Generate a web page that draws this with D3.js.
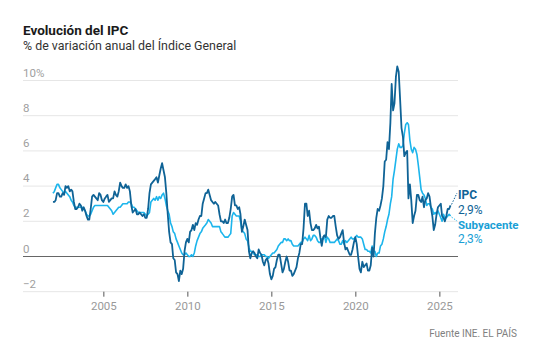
<!DOCTYPE html>
<html lang="es">
<head>
<meta charset="utf-8">
<title>Evolución del IPC</title>
<script src="https://cdn.jsdelivr.net/npm/d3@7"></script>
<style>
    body { margin: 0; background: #fff; }
    #chart { width: 536px; height: 352px; }
    text { font-family: Roboto, "Liberation Sans", sans-serif; }
</style>
</head>
<body>
<div id="chart"></div>
<script>
// Monthly data, Jan 2002 .. Sep 2025 (% annual change)
const startYear = 2002;

const ipc = [
    3.1, 3.1, 3.2, 3.6, 3.6, 3.4, 3.4, 3.6, 3.5, 4.0, 3.9, 4.0,      // 2002
    3.7, 3.8, 3.7, 3.1, 2.7, 2.7, 2.8, 3.0, 2.9, 2.6, 2.8, 2.6,      // 2003
    2.3, 2.1, 2.1, 2.7, 3.4, 3.5, 3.4, 3.3, 3.2, 3.6, 3.5, 3.2,      // 2004
    3.1, 3.3, 3.4, 3.5, 3.1, 3.2, 3.3, 3.3, 3.7, 3.5, 3.4, 3.7,      // 2005
    4.2, 4.0, 3.9, 3.9, 4.1, 3.9, 4.0, 3.7, 2.9, 2.5, 2.6, 2.7,      // 2006
    2.4, 2.4, 2.5, 2.4, 2.3, 2.4, 2.2, 2.2, 2.7, 3.6, 4.1, 4.2,      // 2007
    4.3, 4.4, 4.5, 4.2, 4.6, 5.0, 5.3, 4.9, 4.5, 3.6, 2.4, 1.4,      // 2008
    0.8, 0.7, -0.1, -0.2, -0.9, -1.0, -1.4, -0.8, -1.0, -0.7, 0.3, 0.8, // 2009
    1.0, 0.8, 1.4, 1.5, 1.8, 1.5, 1.9, 1.8, 2.1, 2.3, 2.3, 3.0,      // 2010
    3.3, 3.6, 3.6, 3.8, 3.5, 3.2, 3.1, 3.0, 3.1, 3.0, 2.9, 2.4,      // 2011
    2.0, 2.0, 1.9, 2.1, 1.9, 1.9, 2.2, 2.7, 3.4, 3.5, 2.9, 2.9,      // 2012
    2.7, 2.8, 2.4, 1.4, 1.7, 2.1, 1.8, 1.5, 0.3, -0.1, 0.2, 0.3,     // 2013
    0.2, 0.0, -0.1, 0.4, 0.2, 0.1, -0.3, -0.5, -0.2, -0.1, -0.4, -1.0, // 2014
    -1.3, -1.1, -0.7, -0.6, -0.2, 0.1, 0.1, -0.4, -0.9, -0.7, -0.3, 0.0, // 2015
    -0.3, -0.8, -0.8, -1.1, -1.0, -0.8, -0.6, -0.1, 0.2, 0.7, 0.7, 1.6, // 2016
    3.0, 3.0, 2.3, 2.6, 1.9, 1.5, 1.5, 1.6, 1.8, 1.6, 1.7, 1.1,      // 2017
    0.6, 1.1, 1.2, 1.1, 2.1, 2.3, 2.2, 2.2, 2.3, 2.3, 1.7, 1.2,      // 2018
    1.0, 1.1, 1.3, 1.5, 0.8, 0.4, 0.5, 0.3, 0.1, 0.1, 0.4, 0.8,      // 2019
    1.1, 0.7, 0.0, -0.7, -0.9, -0.3, -0.6, -0.5, -0.4, -0.8, -0.8, -0.5, // 2020
    0.5, 0.0, 1.3, 2.2, 2.7, 2.6, 2.9, 3.3, 4.0, 5.4, 5.5, 6.5,      // 2021
    6.1, 7.6, 9.8, 8.3, 8.7, 10.2, 10.8, 10.5, 8.9, 7.3, 6.8, 5.7,   // 2022
    5.9, 6.0, 3.3, 4.1, 3.2, 1.9, 2.3, 2.6, 3.5, 3.5, 3.2, 3.1,      // 2023
    3.4, 2.8, 3.2, 3.3, 3.6, 3.4, 2.8, 2.3, 1.5, 1.8, 2.4, 2.8,      // 2024
    2.9, 3.0, 2.3, 2.2, 2.0, 2.3, 2.7, 2.7, 2.9                      // 2025
];

const subyacente = [
    3.6, 3.7, 3.9, 4.1, 4.1, 3.9, 3.8, 3.7, 3.6, 3.7, 3.6, 3.5,      // 2002
    3.4, 3.2, 3.1, 2.9, 2.8, 2.8, 2.8, 2.8, 2.8, 2.8, 2.7, 2.6,      // 2003
    2.4, 2.3, 2.3, 2.4, 2.6, 2.8, 2.9, 2.9, 2.9, 2.9, 2.9, 2.9,      // 2004
    2.9, 2.9, 2.9, 2.9, 2.8, 2.7, 2.6, 2.4, 2.5, 2.6, 2.7, 2.8,      // 2005
    2.8, 2.9, 3.0, 3.0, 3.0, 3.0, 3.1, 3.1, 3.0, 2.8, 2.8, 2.7,      // 2006
    2.6, 2.5, 2.5, 2.5, 2.5, 2.5, 2.4, 2.3, 2.4, 2.5, 3.1, 3.2,      // 2007
    3.3, 3.2, 3.4, 3.2, 3.4, 3.3, 3.5, 3.6, 3.3, 2.9, 2.6, 2.4,      // 2008
    1.9, 1.7, 1.4, 1.3, 1.0, 0.8, 0.6, 0.4, 0.2, 0.1, 0.1, 0.2,      // 2009
    0.1, 0.0, 0.0, 0.1, 0.0, 0.2, 0.6, 0.9, 1.1, 1.3, 1.4, 1.6,      // 2010
    1.7, 1.8, 1.9, 2.1, 2.0, 1.9, 1.7, 1.7, 1.7, 1.7, 1.7, 1.7,      // 2011
    1.4, 1.3, 1.2, 1.1, 1.1, 1.1, 1.2, 1.3, 2.3, 2.5, 2.4, 2.3,      // 2012
    2.3, 2.3, 2.0, 1.5, 1.4, 1.3, 1.0, 0.9, 0.5, 0.3, 0.3, 0.2,      // 2013
    0.1, 0.1, 0.1, 0.0, 0.0, 0.1, 0.1, 0.1, 0.0, 0.0, -0.1, 0.0,     // 2014
    0.1, 0.2, 0.2, 0.3, 0.4, 0.6, 0.7, 0.8, 0.8, 1.0, 1.0, 0.9,      // 2015
    1.0, 0.9, 0.9, 0.7, 0.6, 0.6, 0.6, 0.6, 0.7, 0.8, 0.8, 1.0,      // 2016
    1.1, 1.0, 0.9, 1.2, 0.9, 1.0, 1.2, 1.2, 1.1, 0.9, 0.8, 0.8,      // 2017
    1.0, 1.0, 1.2, 0.8, 1.1, 1.0, 0.8, 0.8, 0.8, 0.8, 0.9, 1.0,      // 2018
    0.9, 0.7, 0.7, 0.9, 0.7, 0.9, 0.8, 0.9, 1.0, 1.1, 1.0, 1.0,      // 2019
    1.1, 1.2, 1.1, 1.1, 1.1, 1.0, 0.7, 0.4, 0.4, 0.3, 0.3, 0.2,      // 2020
    0.6, 0.3, 0.3, 0.0, 0.2, 0.2, 0.6, 0.7, 1.0, 1.4, 1.7, 2.1,      // 2021
    2.4, 3.0, 3.4, 4.4, 4.9, 5.5, 6.1, 6.4, 6.2, 6.2, 6.3, 7.0,      // 2022
    7.5, 7.6, 7.5, 6.6, 6.1, 5.9, 6.2, 6.1, 5.8, 5.2, 4.5, 3.8,      // 2023
    3.6, 3.5, 3.3, 2.9, 3.0, 3.0, 2.8, 2.7, 2.4, 2.5, 2.4, 2.6,      // 2024
    2.4, 2.2, 2.0, 2.4, 2.2, 2.2, 2.3, 2.4, 2.3                      // 2025
];

const yTicks = [-2, 0, 2, 4, 6, 8, 10];
const xTickYears = [2005, 2010, 2015, 2020, 2025];

const title = "Evolución del IPC";
const subtitle = "% de variación anual del Índice General";
const source = "Fuente INE. EL PAÍS";

document.addEventListener("DOMContentLoaded", () => {
    const W = 536, H = 352;
    const left = 23, right = 458, top = 80.5, bottom = 291.7;

    const colIpc = "#0f6396";
    const colSub = "#1cb5ec";

    const svg = d3.select("#chart")
        .append("svg")
        .attr("width", W)
        .attr("height", H);

    const data = ipc.map((v, i) => ({
        date: new Date(startYear, i, 1),
        ipc: v,
        sub: subyacente[i]
    }));

    const x = d3.scaleTime()
        .domain([new Date(2000, 2, 21), new Date(2026, 1, 10)])
        .range([left, right]);

    const y = d3.scaleLinear()
        .domain([-2, 10])
        .range([bottom, top]);

    // Title
    svg.append("text")
        .attr("x", left)
        .attr("y", 34.5)
        .style("font-size", "13.5px")
        .style("font-weight", "700")
        .style("fill", "#1a1a1a")
        .text(title);

    svg.append("text")
        .attr("x", left)
        .attr("y", 49.5)
        .style("font-size", "12.4px")
        .style("fill", "#333")
        .text(subtitle);

    // Grid
    svg.append("g")
        .selectAll("line")
        .data(yTicks.filter(d => d !== 0))
        .enter()
        .append("line")
        .attr("x1", left)
        .attr("x2", right)
        .attr("y1", d => y(d))
        .attr("y2", d => y(d))
        .attr("stroke", "#e6e6e6")
        .attr("stroke-width", 1);

    svg.append("g")
        .selectAll("text")
        .data(yTicks)
        .enter()
        .append("text")
        .attr("x", left)
        .attr("y", d => y(d) - 4)
        .style("font-size", "11.5px")
        .style("fill", "#a0a0a0")
        .text(d => (d < 0 ? "\u2212" + Math.abs(d) : d) + (d === 10 ? "%" : ""));

    // X axis
    const xAxis = svg.append("g")
        .attr("transform", `translate(0,${bottom})`)
        .call(d3.axisBottom(x)
            .tickValues(xTickYears.map(yr => new Date(yr, 0, 1)))
            .tickFormat(d3.timeFormat("%Y"))
            .tickSize(5)
            .tickPadding(5));
    xAxis.select(".domain").remove();
    xAxis.selectAll(".tick line").attr("stroke", "#555");
    xAxis.selectAll(".tick text")
        .style("font-size", "11.5px")
        .style("font-family", "Roboto, sans-serif")
        .attr("fill", "#999");

    // Zero line
    svg.append("line")
        .attr("x1", left)
        .attr("x2", right)
        .attr("y1", y(0))
        .attr("y2", y(0))
        .attr("stroke", "#666")
        .attr("stroke-width", 1.2);

    // Lines
    const lineSub = d3.line()
        .x(d => x(d.date))
        .y(d => y(d.sub));

    const lineIpc = d3.line()
        .x(d => x(d.date))
        .y(d => y(d.ipc));

    svg.append("path")
        .datum(data)
        .attr("fill", "none")
        .attr("stroke", colSub)
        .attr("stroke-width", 1.6)
        .attr("stroke-linejoin", "round")
        .attr("d", lineSub);

    svg.append("path")
        .datum(data)
        .attr("fill", "none")
        .attr("stroke", colIpc)
        .attr("stroke-width", 1.8)
        .attr("stroke-linejoin", "round")
        .attr("d", lineIpc);

    // End labels
    const last = data[data.length - 1];
    const lx = x(last.date);
    const labX = 458;

    svg.append("line")
        .attr("x1", lx + 1).attr("y1", y(last.ipc) - 1)
        .attr("x2", labX - 1).attr("y2", 193)
        .attr("stroke", colIpc)
        .attr("stroke-width", 1)
        .attr("stroke-dasharray", "1.5,1.5");

    svg.append("line")
        .attr("x1", lx + 1).attr("y1", y(last.sub) + 1)
        .attr("x2", labX - 1).attr("y2", 221)
        .attr("stroke", colSub)
        .attr("stroke-width", 1)
        .attr("stroke-dasharray", "1.5,1.5");

    const fmt = v => v.toFixed(1).replace(".", ",") + "%";

    svg.append("text")
        .attr("x", labX).attr("y", 198.5)
        .style("font-size", "12px").style("font-weight", "700")
        .style("fill", colIpc)
        .text("IPC");
    svg.append("text")
        .attr("x", labX).attr("y", 213.5)
        .style("font-size", "12px")
        .style("fill", colIpc)
        .text(fmt(last.ipc));
    svg.append("text")
        .attr("x", labX).attr("y", 228.5)
        .style("font-size", "11.5px").style("font-weight", "700")
        .style("fill", "#1a9fd6")
        .text("Subyacente");
    svg.append("text")
        .attr("x", labX).attr("y", 242.5)
        .style("font-size", "12px")
        .style("fill", "#1a9fd6")
        .text(fmt(last.sub));

    // Source
    svg.append("text")
        .attr("x", 517)
        .attr("y", 336.5)
        .attr("text-anchor", "end")
        .style("font-size", "10px")
        .style("fill", "#808080")
        .text(source);
});
</script>
</body>
</html>
